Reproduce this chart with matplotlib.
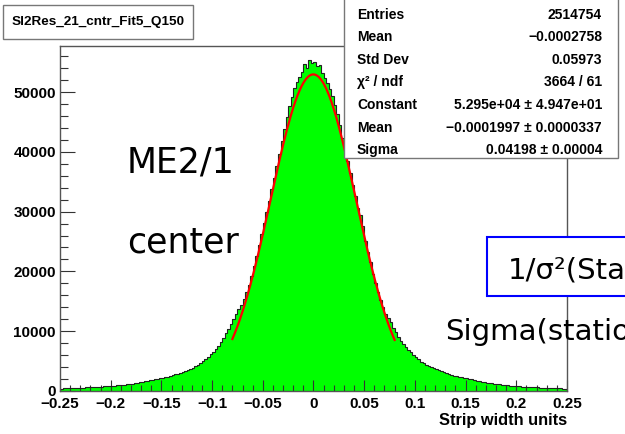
import numpy as np
import matplotlib
matplotlib.use("Agg")
import matplotlib.pyplot as plt
from matplotlib.patches import Rectangle

#------------------------------------------------------------------------------#
# Histogram: 200 bins from -0.25 to 0.25 (strip width units)

xMin  = -0.25
xMax  =  0.25
nBins = 200

# bins from -0.25 up to 0 (left half)
leftCounts = [
    400, 420, 445, 460, 480, 500, 520, 545, 560, 580,
    600, 615, 640, 660, 690, 720, 750, 790, 820, 840,
    860, 890, 930, 980, 1020, 1070, 1120, 1170, 1230, 1300,
    1380, 1450, 1530, 1620, 1710, 1800, 1880, 1970, 2060, 2140,
    2230, 2330, 2420, 2530, 2640, 2760, 2900, 3050, 3200, 3380,
    3560, 3740, 3930, 4150, 4420, 4700, 5000, 5300, 5650, 6150,
    6600, 7100, 7600, 8200, 8900, 9700, 10450, 11250, 12100, 12900,
    13700, 14400, 15400, 16600, 17800, 19200, 20900, 22600, 24400, 26200,
    28100, 29900, 31800, 33800, 35700, 37700, 39700, 41800, 43900, 45900,
    47600, 49200, 50600, 51700, 52500, 53400, 54700, 54100, 55300, 54900,
]

# bins from 0 up to 0.25 (right half)
rightCounts = [
    55100, 54300, 54600, 53200, 52400, 51500, 50500, 49300, 47900, 46300,
    44500, 42300, 40300, 38400, 36400, 34500, 32600, 30600, 29500, 27600,
    25100, 23300, 21500, 19600, 18000, 16500, 15200, 14000, 12900, 12200,
    11500, 10600, 9800, 9100, 8400, 7900, 7400, 6900, 6500, 6100,
    5700, 5300, 4900, 4600, 4400, 4150, 3950, 3800, 3650, 3480,
    3320, 3140, 2980, 2820, 2690, 2560, 2450, 2360, 2280, 2190,
    2110, 2020, 1940, 1850, 1750, 1650, 1560, 1490, 1420, 1340,
    1270, 1200, 1140, 1090, 1050, 1000, 950, 900, 860, 830,
    810, 780, 750, 720, 690, 660, 640, 620, 600, 580,
    565, 550, 530, 510, 490, 470, 450, 430, 410, 390,
]

# Gaussian fit result
fitConst = 5.295e4
fitMean  = -0.0001997
fitSigma = 0.04198
fitRange = (-0.08, 0.08)

histTitle = "Sl2Res_21_cntr_Fit5_Q150"
xLabel    = "Strip width units"

statLabels = ["Entries", "Mean", "Std Dev", "\u03c7\u00b2 / ndf",
              "Constant", "Mean", "Sigma"]
statValues = ["2514754", "\u22120.0002758", "0.05973", "3664 / 61",
              "5.295e+04 \u00b1 4.947e+01",
              "\u22120.0001997 \u00b1 0.0000337",
              "0.04198 \u00b1 0.00004"]

xTicks      = [-0.25, -0.2, -0.15, -0.1, -0.05, 0, 0.05, 0.1, 0.15, 0.2, 0.25]
xTickLabels = ["\u22120.25", "\u22120.2", "\u22120.15", "\u22120.1", "\u22120.05",
               "0", "0.05", "0.1", "0.15", "0.2", "0.25"]
yTicks      = [0, 10000, 20000, 30000, 40000, 50000]

#------------------------------------------------------------------------------#

W, H = 625, 434

def fx(px):
    return px / W

def fy(py):
    return 1 - py / H

#------------------------------------------------------------------------------#

def main() -> None:

    plt.rcParams['font.family'] = ['Liberation Sans', 'DejaVu Sans']

    fig = plt.figure(figsize=(W / 100, H / 100), dpi=100)
    fig.patch.set_facecolor('white')

    # frame in pixels: left 60, right 567, top 46, bottom 391
    ax = fig.add_axes([fx(60), fy(391), fx(567) - fx(60), fy(46) - fy(391)])

    counts = np.array(leftCounts + rightCounts, dtype=float)
    edges  = np.linspace(xMin, xMax, nBins + 1)

    ax.stairs(counts, edges, fill=True, color='#00ff00', zorder=1)
    ax.stairs(counts, edges, color='#222222', linewidth=0.8, zorder=2)

    xFit = np.linspace(fitRange[0], fitRange[1], 300)
    yFit = fitConst * np.exp(-0.5 * ((xFit - fitMean) / fitSigma) ** 2)
    ax.plot(xFit, yFit, color='#ff0000', linewidth=1.6, zorder=3)

    ax.set_xlim(xMin, xMax)
    ax.set_ylim(0, 57700)

    ax.set_xticks(xTicks)
    ax.set_xticklabels(xTickLabels)
    ax.set_xticks(np.arange(-0.25, 0.2501, 0.01), minor=True)
    ax.set_yticks(yTicks)
    ax.set_yticklabels([str(v) for v in yTicks])
    ax.set_yticks(np.arange(0, 57001, 2000), minor=True)

    for lbl in ax.get_xticklabels() + ax.get_yticklabels():
        lbl.set_fontweight('bold')
        lbl.set_fontsize(11)

    ax.tick_params(axis='x', which='major', direction='in', length=8,
                   width=0.8, color='#333333', pad=4)
    ax.tick_params(axis='x', which='minor', direction='in', length=4,
                   width=0.8, color='#333333')
    ax.tick_params(axis='y', which='major', direction='in', length=11,
                   width=0.8, color='#333333', pad=3)
    ax.tick_params(axis='y', which='minor', direction='in', length=6,
                   width=0.8, color='#333333')

    for side in ['left', 'bottom', 'right', 'top']:
        ax.spines[side].set_color('#555555')
        ax.spines[side].set_linewidth(1.0)

    fig.text(fx(567), fy(420), xLabel, ha='right', va='center',
             fontsize=11.8, fontweight='bold')

    # Title box
    fig.patches.append(Rectangle((fx(3), fy(39)), fx(193) - fx(3), fy(5) - fy(39),
                                 transform=fig.transFigure, facecolor='white',
                                 edgecolor='#777777', linewidth=1.0, zorder=5))
    fig.text(fx(98), fy(22), histTitle, ha='center', va='center',
             fontsize=9.7, fontweight='bold', zorder=6)

    # Stats box
    fig.patches.append(Rectangle((fx(344), fy(158)), fx(618) - fx(344), fy(-2) - fy(158),
                                 transform=fig.transFigure, facecolor='white',
                                 edgecolor='#777777', linewidth=1.0, zorder=5))
    rowY = [15, 37, 60, 82, 105, 128, 150]
    for label, value, y in zip(statLabels, statValues, rowY):
        fig.text(fx(357), fy(y), label, ha='left', va='center',
                 fontsize=10, fontweight='bold', zorder=6)
        fig.text(fx(602), fy(y), value, ha='right', va='center',
                 fontsize=10, fontweight='bold', zorder=6)

    # Slide annotations (run off the right edge, as in the original slide)
    fig.text(fx(127), fy(172), "ME2/1", ha='left', va='baseline',
             fontsize=25, family=['DejaVu Sans'], zorder=6)
    fig.text(fx(127), fy(252), "center", ha='left', va='baseline',
             fontsize=25, family=['DejaVu Sans'], zorder=6)

    fig.patches.append(Rectangle((fx(487), fy(296)), fx(640) - fx(487), fy(237) - fy(296),
                                 transform=fig.transFigure, facecolor='white',
                                 edgecolor='#0000ff', linewidth=1.5, zorder=5))
    fig.text(fx(508), fy(278), "1/\u03c3\u00b2(Station)", ha='left', va='baseline',
             fontsize=21, family=['DejaVu Sans'], zorder=6)
    fig.text(fx(445), fy(340), "Sigma(station)", ha='left', va='baseline',
             fontsize=21, family=['DejaVu Sans'], zorder=6)

    fig.savefig("out.png", dpi=100, facecolor='white')

#------------------------------------------------------------------------------#

if __name__ == "__main__":
    main()
